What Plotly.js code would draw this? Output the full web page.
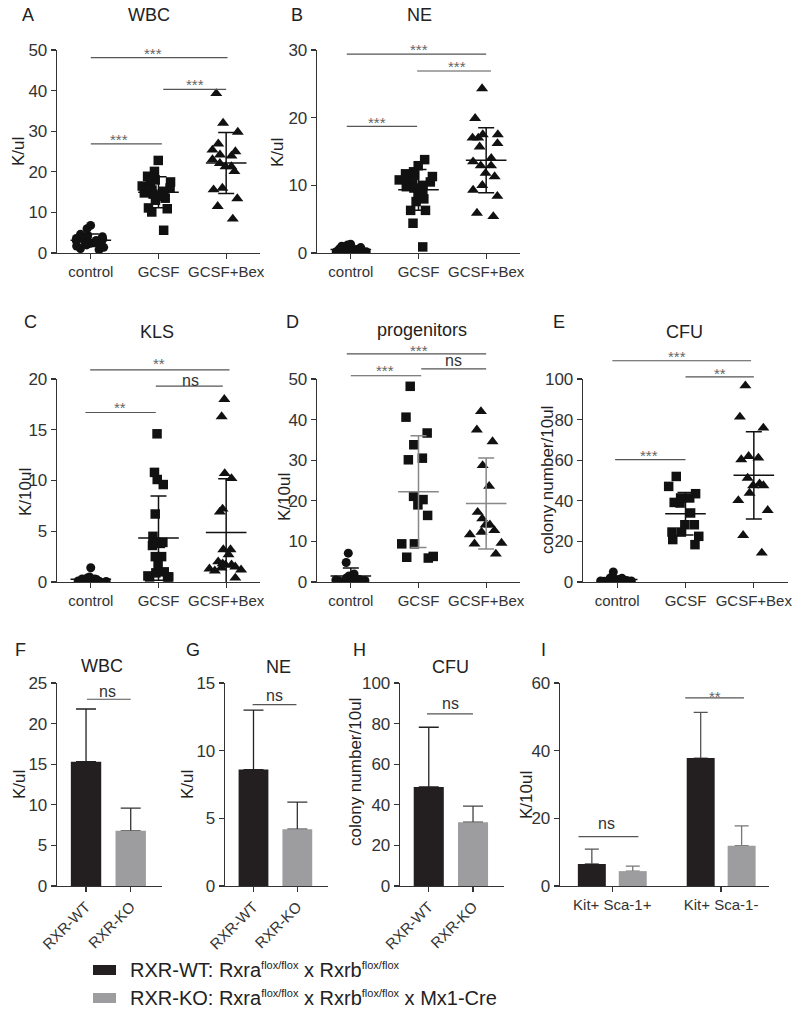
<!DOCTYPE html>
<html><head><meta charset="utf-8">
<script src="https://cdn.plot.ly/plotly-3.0.1.min.js"></script>
<style>html,body{margin:0;padding:0;background:#fff}</style>
</head><body>
<div id="chart" style="width:800px;height:1012px"></div>
<script>
// ---------- data ----------
const groups = ['control', 'GCSF', 'GCSF+Bex'];

const wbcControl = [6.8, 6.0, 4.6, 4.3, 4.0, 3.8, 3.6, 3.4, 3.2, 3.1, 3.0, 2.8, 2.6, 2.4, 2.2, 2.0, 1.7, 1.4, 1.1, 0.8];
const wbcGcsf = [22.8, 20.1, 18.9, 18.0, 17.5, 17.2, 16.5, 16.0, 15.5, 15.2, 14.8, 14.5, 14.2, 14.0, 13.5, 13.0, 11.1, 10.9, 10.1, 5.6];
const wbcBex = [39.3, 32.0, 29.8, 26.9, 25.0, 25.4, 23.9, 24.2, 23.0, 21.3, 22.1, 20.1, 21.3, 15.6, 16.0, 13.4, 11.5, 8.4];

const neControl = [1.3, 1.2, 1.0, 0.9, 0.8, 0.7, 0.6, 0.6, 0.5, 0.5, 0.4, 0.4, 0.3, 0.3, 0.3, 0.2, 0.2, 0.2, 0.1, 0.1];
const neGcsf = [13.8, 12.9, 12.0, 11.7, 11.5, 11.3, 11.0, 10.8, 10.5, 10.2, 10.0, 9.8, 9.6, 9.0, 8.5, 8.0, 7.6, 6.3, 6.3, 4.4, 0.9];
const neBex = [24.3, 19.9, 17.5, 17.5, 17.0, 17.0, 16.2, 15.7, 14.0, 13.5, 12.9, 12.9, 11.8, 11.3, 10.0, 9.3, 8.4, 5.9, 5.4];

const klsControl = [1.4, 0.5, 0.4, 0.4, 0.3, 0.3, 0.3, 0.2, 0.2, 0.2, 0.2, 0.15, 0.1, 0.1, 0.1, 0.1, 0.1, 0.05, 0.05, 0.05];
const klsGcsf = [14.6, 10.8, 10.1, 9.6, 6.7, 4.5, 3.9, 3.9, 3.8, 3.6, 2.5, 2.5, 1.7, 1.0, 0.9, 0.6, 0.5, 0.5, 0.5];
const klsBex = [18.0, 16.3, 10.7, 10.2, 7.2, 6.9, 3.2, 3.2, 2.7, 2.0, 1.8, 1.7, 1.7, 1.5, 1.4, 1.3, 1.2, 1.1, 0.4];

const progControl = [7.1, 4.8, 2.0, 1.5, 1.2, 1.0, 0.9, 0.8, 0.7, 0.6, 0.5, 0.5, 0.4, 0.3, 0.3];
const progGcsf = [48.2, 40.6, 36.7, 33.8, 30.5, 30.1, 21.1, 20.3, 19.0, 16.4, 9.4, 9.4, 6.3, 6.1, 5.9];
const progBex = [42.0, 37.5, 34.6, 28.7, 23.6, 17.2, 15.6, 14.1, 14.1, 12.7, 12.3, 11.7, 9.6, 9.4, 6.9];

const cfuControl = [4.9, 2.0, 1.8, 1.5, 1.3, 1.2, 1.0, 1.0, 0.8, 0.8, 0.6, 0.5, 0.5, 0.4, 0.3];
const cfuGcsf = [52.0, 47.1, 43.5, 41.4, 41.4, 39.2, 38.9, 34.0, 28.2, 28.2, 24.6, 24.6, 22.5, 20.9, 18.4];
const cfuBex = [96.7, 81.3, 75.9, 61.9, 61.1, 60.3, 51.2, 48.4, 47.5, 47.5, 43.8, 40.2, 35.3, 23.0, 14.3];

const genotypes = ['RXR-WT', 'RXR-KO'];
const barWbcMean = [15.3, 6.8];
const barWbcSd = [6.5, 2.8];
const barNeMean = [8.6, 4.2];
const barNeSd = [4.4, 2.0];
const barCfuMean = [48.8, 31.4];
const barCfuSd = [29.4, 7.9];

const populations = ['Kit+ Sca-1+', 'Kit+ Sca-1-'];
const kitWtMean = [6.5, 37.8];
const kitWtSd = [4.4, 13.5];
const kitKoMean = [4.4, 11.9];
const kitKoSd = [1.5, 5.9];

// significance brackets: [x0, x1, y, label, labelX, labelY]
const sigA = [[0, 1.05, 26.9, '***', 0.41, 28.9], [1.07, 2.0, 40.3, '***', 1.54, 42.6], [0, 2.02, 48.1, '***', 0.92, 50.2]];
const sigB = [[-0.06, 0.98, 18.7, '***', 0.39, 19.9], [0.98, 2.07, 26.9, '***', 1.57, 28.2], [-0.06, 2.0, 29.4, '***', 1.0, 30.6]];
const sigC = [[-0.08, 0.96, 16.7, '**', 0.43, 17.6], [0.96, 1.95, 19.3, 'ns', 1.48, 19.9], [-0.01, 2.05, 20.9, '**', 1.0, 21.9]];
const sigD = [[0, 1.04, 50.8, '***', 0.5, 53.0], [1.04, 2.0, 52.5, 'ns', 1.51, 54.6], [-0.06, 2.0, 56.2, '***', 1.0, 58.0]];
const sigE = [[-0.03, 1.0, 60.3, '***', 0.47, 64.4], [1.0, 2.0, 101, '**', 1.5, 104.9], [-0.07, 1.96, 109, '***', 0.87, 113]];
const sigF = [[0.02, 1.0, 23.0, 'ns', 0.49, 24.0]];
const sigG = [[-0.02, 0.98, 13.4, 'ns', 0.49, 14.1]];
const sigH = [[-0.04, 1.0, 84.8, 'ns', 0.5, 89.8]];
const sigI = [[-0.31, 0.24, 14.6, 'ns', -0.05, 18.6], [0.67, 1.21, 55.6, '**', 0.94, 57.1]];

// ---------- helpers ----------
const FONT = "Arial, 'Liberation Sans', Helvetica, sans-serif";
const W = 800, H = 1012;
const P = px => px / W;
const Q = py => 1 - py / H;
const mean = a => a.reduce((s, v) => s + v, 0) / a.length;
const sd = a => { const m = mean(a); return Math.sqrt(a.reduce((s, v) => s + (v - m) * (v - m), 0) / (a.length - 1)); };

const traces = [], annotations = [], shapes = [];
const layout = {
  width: W, height: H, margin: {l: 0, r: 0, t: 0, b: 0},
  paper_bgcolor: '#fff', plot_bgcolor: 'rgba(0,0,0,0)',
  showlegend: false, barmode: 'group', boxmode: 'overlay', boxgap: 0.1, boxgroupgap: 0,
  font: {family: FONT, color: '#333'}
};

function ids(n) { const s = n === 1 ? '' : String(n); return {x: 'x' + s, y: 'y' + s, xl: 'xaxis' + s, yl: 'yaxis' + s}; }

function addAxes(n, xdom, ydom, cats, xrange, ymax, dtick, tickangle) {
  const a = ids(n);
  const common = {showline: true, linecolor: '#333', linewidth: 1.3, ticks: 'outside', ticklen: 5, tickwidth: 1.3,
    tickcolor: '#333', showgrid: false, zeroline: false, fixedrange: true};
  layout[a.xl] = Object.assign({}, common, {domain: [P(xdom[0]), P(xdom[1])], anchor: a.y, type: 'category',
    categoryorder: 'array', categoryarray: cats, range: xrange, tickangle: tickangle,
    tickfont: {size: 15, color: '#333', family: FONT}});
  layout[a.yl] = Object.assign({}, common, {domain: [Q(ydom[1]), Q(ydom[0])], anchor: a.x, range: [0, ymax],
    tick0: 0, dtick: dtick, tickfont: {size: 17, color: '#333', family: FONT}});
}

function addSig(n, ymax, list) {
  const a = ids(n);
  list.forEach(([x0, x1, yv, lab, lx, ly]) => {
    shapes.push({type: 'line', xref: a.x, yref: a.y + ' domain', x0: x0, x1: x1, y0: yv / ymax, y1: yv / ymax,
      line: {color: '#555', width: 1.2}});
    const ns = lab === 'ns';
    annotations.push({xref: a.x, yref: a.y + ' domain', x: lx, y: ly / ymax, text: lab, showarrow: false,
      xanchor: 'center', yanchor: 'middle', yshift: ns ? 0 : -4,
      font: {size: ns ? 16 : 15, color: ns ? '#333' : '#666', family: FONT}});
  });
}

function label(text, x, y, size, extra) {
  annotations.push(Object.assign({xref: 'paper', yref: 'paper', x: P(x), y: Q(y), text: text, showarrow: false,
    xanchor: 'center', yanchor: 'middle', font: {size: size, color: '#222', family: FONT}}, extra || {}));
}

const SYMBOLS = ['circle', 'square', 'triangle-up'];
const SIZES = [9, 9.5, 10.5];
function addDots(n, sets, lineColors) {
  const a = ids(n);
  sets.forEach((vals, i) => {
    traces.push({type: 'box', name: groups[i], x: vals.map(() => groups[i]), y: vals, xaxis: a.x, yaxis: a.y,
      boxpoints: 'all', jitter: 0.65, pointpos: 0, fillcolor: 'rgba(0,0,0,0)',
      line: {width: 0, color: 'rgba(0,0,0,0)'}, marker: {symbol: SYMBOLS[i], size: SIZES[i], color: '#111'},
      hoverinfo: 'y'});
  });
  sets.forEach((vals, i) => {
    traces.push({type: 'scatter', mode: 'markers', x: [groups[i]], y: [mean(vals)], xaxis: a.x, yaxis: a.y,
      cliponaxis: false, marker: {symbol: 'line-ew', size: 29, color: lineColors[i], line: {width: 1.5, color: lineColors[i]}},
      error_y: {type: 'data', array: [sd(vals)], visible: true, color: lineColors[i], thickness: 1.5, width: 8}});
  });
}

const BAR_COLORS = ['#231f20', '#9d9da0'];
// error bars are carried by transparent bars drawn first, so the solid bars cover the lower cap
function addBars(n, cats, means, sds, color, errColor, offset, width, capW) {
  const a = ids(n);
  traces.push({type: 'bar', x: cats, y: means, xaxis: a.x, yaxis: a.y, offset: offset, width: width,
    marker: {color: 'rgba(0,0,0,0)', line: {width: 0}},
    error_y: {type: 'data', symmetric: false, array: sds, arrayminus: cats.map(() => 0), visible: true,
      color: errColor, thickness: 1.3, width: capW}});
  return {type: 'bar', x: cats, y: means, xaxis: a.x, yaxis: a.y, offset: offset, width: width,
    marker: {color: color, line: {width: 0}}};
}
function addGenotypeBars(n, means, sds, errColors) {
  const solid = genotypes.map((g, i) => addBars(n, [g], [means[i]], [sds[i]], BAR_COLORS[i], errColors[i], -0.34, 0.68, 10));
  solid.forEach(t => traces.push(t));
}

// ---------- dot panels ----------
const dotRange = [-0.5, 2.5];
addAxes(1, [57, 260], [50, 253], groups, dotRange, 50, 10, 0);
addDots(1, [wbcControl, wbcGcsf, wbcBex], ['#111', '#111', '#111']);
addSig(1, 50, sigA);
label('WBC', 149, 15, 18); label('A', 28, 15, 18);
label('K/ul', 18, 152, 17, {textangle: -90});

addAxes(2, [317, 520], [50, 253], groups, dotRange, 30, 10, 0);
addDots(2, [neControl, neGcsf, neBex], ['#111', '#111', '#111']);
addSig(2, 30, sigB);
label('NE', 419, 15, 18); label('B', 297, 15, 18);
label('K/ul', 277, 153, 17, {textangle: -90});

addAxes(3, [57, 260], [379, 582], groups, dotRange, 20, 5, 0);
addDots(3, [klsControl, klsGcsf, klsBex], ['#111', '#111', '#111']);
addSig(3, 20, sigC);
label('KLS', 157, 332, 18); label('C', 30, 322, 18);
label('K/10ul', 25, 492, 17, {textangle: -90});

addAxes(4, [317, 520], [379, 582], groups, dotRange, 50, 10, 0);
addDots(4, [progControl, progGcsf, progBex], ['#111', '#888', '#888']);
addSig(4, 50, sigD);
label('progenitors', 422, 330, 18); label('D', 292, 322, 18);
label('K/10ul', 285, 497, 17, {textangle: -90});

addAxes(5, [583, 788], [379, 582], groups, dotRange, 100, 20, 0);
addDots(5, [cfuControl, cfuGcsf, cfuBex], ['#111', '#111', '#111']);
addSig(5, 100, sigE);
label('CFU', 684, 332, 18); label('E', 559, 322, 18);
label('colony number/10ul', 548, 480, 17, {textangle: -90});

// ---------- bar panels ----------
const barRange = [-0.65, 1.7];
addAxes(6, [57, 162], [683, 886], genotypes, barRange, 25, 5, -45);
addGenotypeBars(6, barWbcMean, barWbcSd, ['#222', '#333']);
addSig(6, 25, sigF);
label('WBC', 102, 666, 18); label('F', 20, 650, 18);
label('K/ul', 19, 785, 17, {textangle: -90});

addAxes(7, [225, 328], [683, 886], genotypes, barRange, 15, 5, -45);
addGenotypeBars(7, barNeMean, barNeSd, ['#222', '#333']);
addSig(7, 15, sigG);
label('NE', 278, 667, 18); label('G', 193, 650, 18);
label('K/ul', 187, 785, 17, {textangle: -90});

addAxes(8, [400, 504], [683, 886], genotypes, barRange, 100, 20, -45);
addGenotypeBars(8, barCfuMean, barCfuSd, ['#222', '#444']);
addSig(8, 100, sigH);
label('CFU', 450, 667, 18); label('H', 359, 650, 18);
label('colony number/10ul', 355, 772, 17, {textangle: -90});

addAxes(9, [560, 769], [683, 886], populations, [-0.48, 1.44], 60, 20, 0);
const kitSolid = [
  addBars(9, populations, kitWtMean, kitWtSd, BAR_COLORS[0], '#555', -0.316, 0.257, 7),
  addBars(9, populations, kitKoMean, kitKoSd, BAR_COLORS[1], '#777', 0.06, 0.257, 7)
];
kitSolid.forEach(t => traces.push(t));
addSig(9, 60, sigI);
label('I', 543, 650, 18);
label('K/10ul', 526, 795, 17, {textangle: -90});

// ---------- legend ----------
const SUP = s => '<sup><span style="font-size:11px">' + s + '</span></sup>';
const legendRows = [
  {text: 'RXR-WT: Rxra' + SUP('flox/flox') + ' x Rxrb' + SUP('flox/flox'), color: BAR_COLORS[0], y: 970},
  {text: 'RXR-KO: Rxra' + SUP('flox/flox') + ' x Rxrb' + SUP('flox/flox') + ' x Mx1-Cre', color: BAR_COLORS[1], y: 998}
];
legendRows.forEach(r => {
  shapes.push({type: 'rect', xref: 'paper', yref: 'paper', x0: P(93), x1: P(116), y0: Q(r.y + 5), y1: Q(r.y - 5),
    fillcolor: r.color, line: {width: 0}});
  label(r.text, 128, r.y, 20, {xanchor: 'left'});
});

layout.annotations = annotations;
layout.shapes = shapes;
Plotly.newPlot('chart', traces, layout, {staticPlot: true, displayModeBar: false});
</script>
</body></html>
